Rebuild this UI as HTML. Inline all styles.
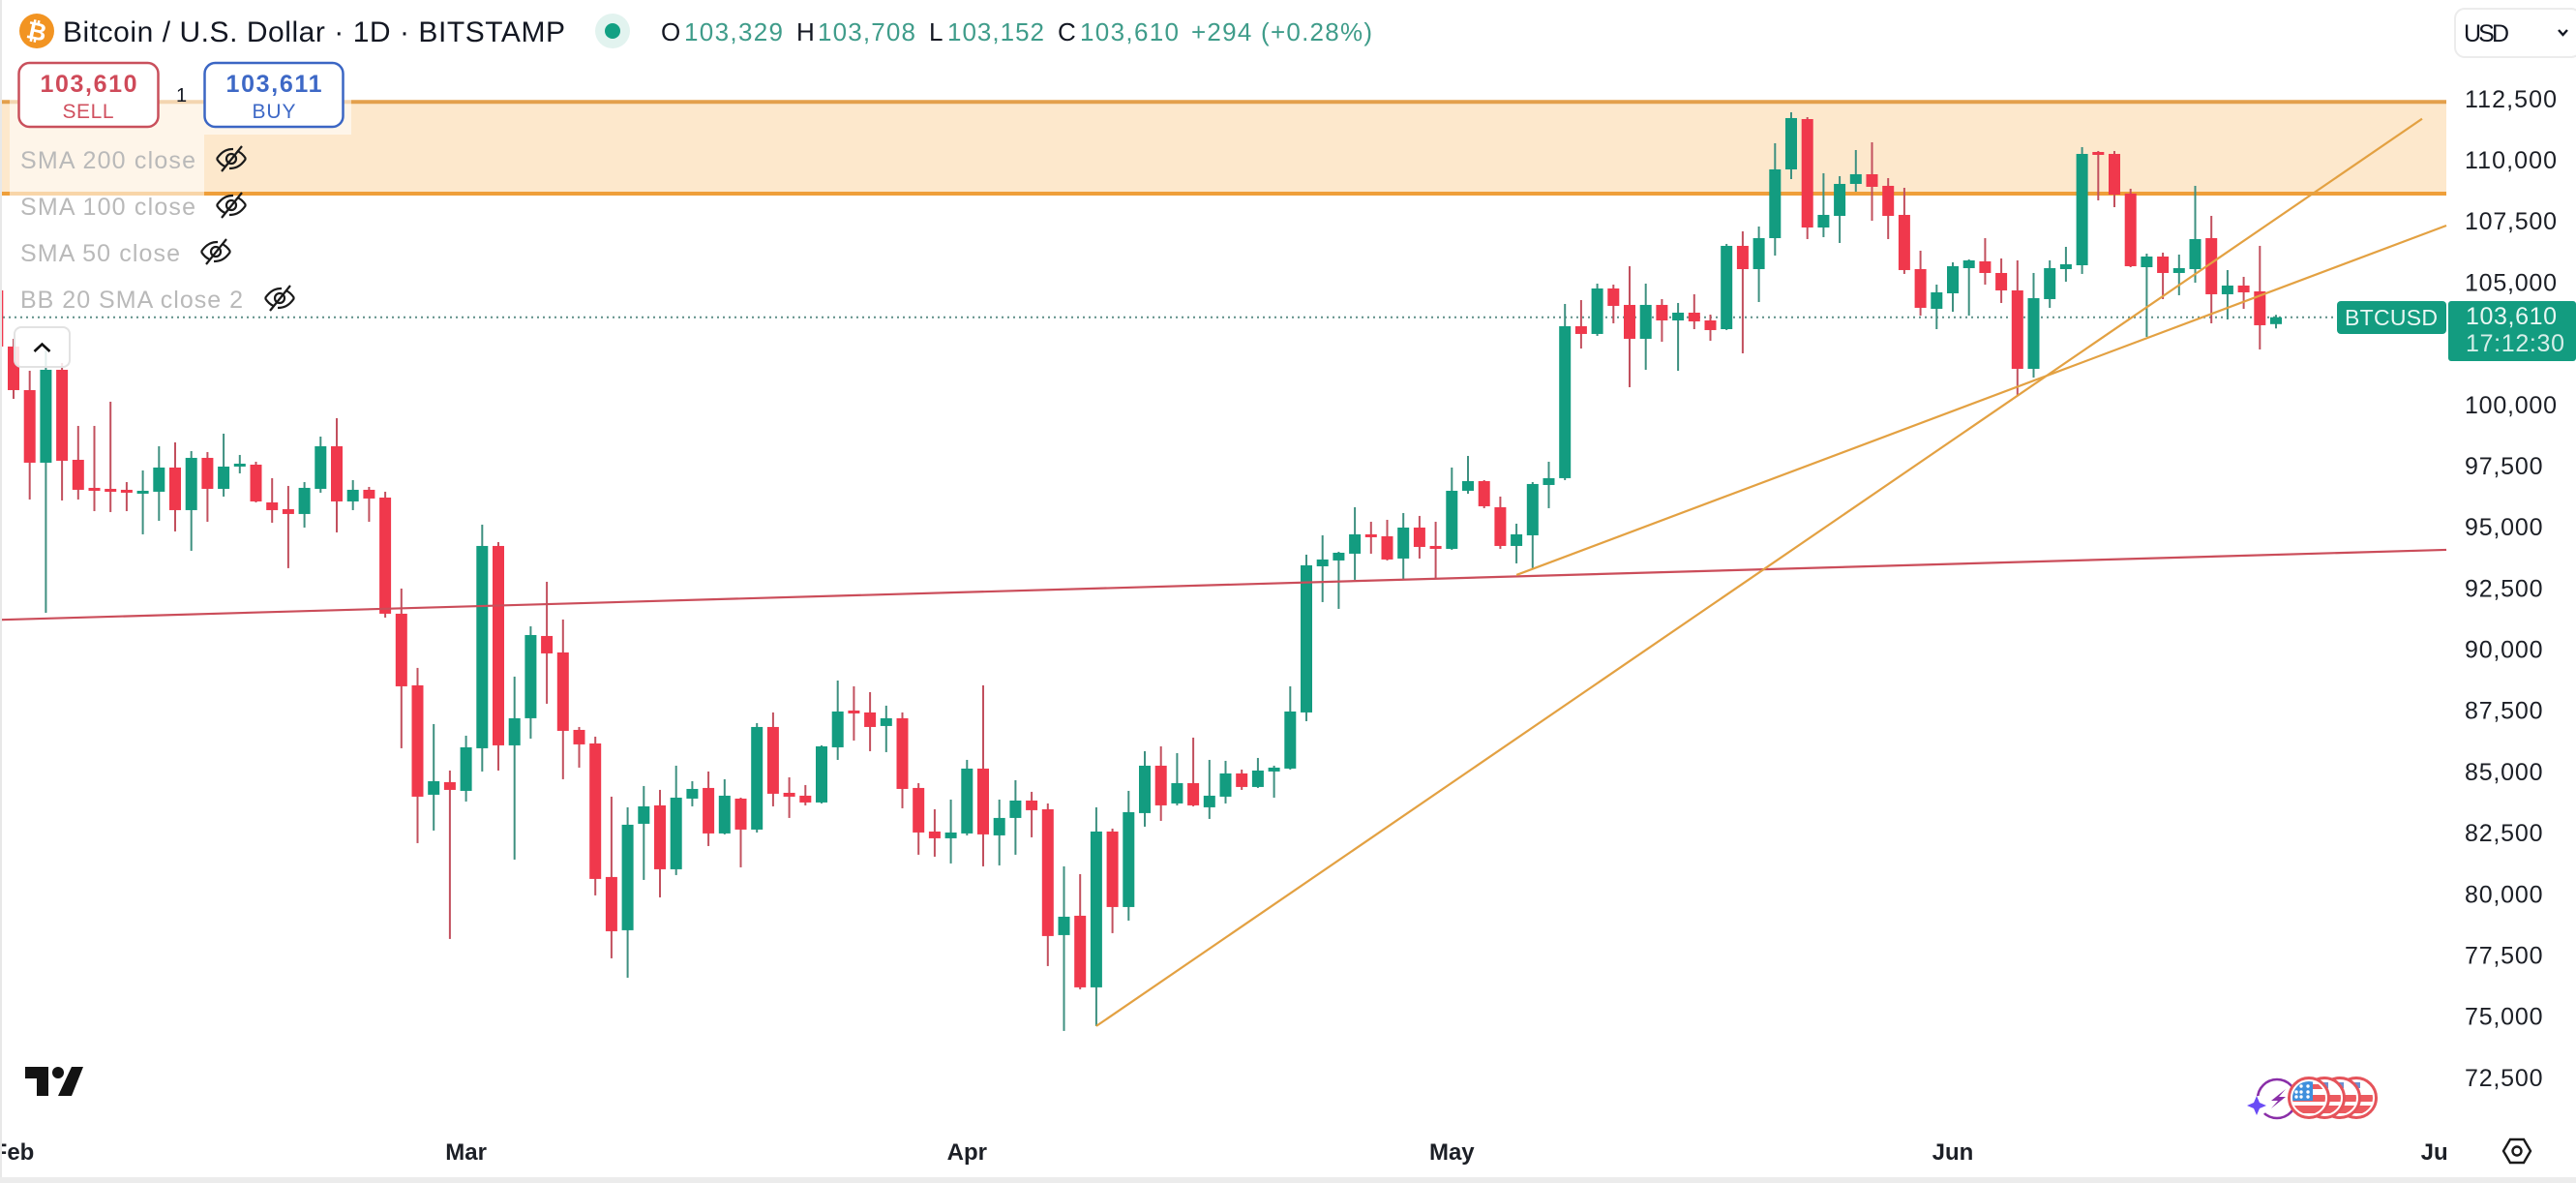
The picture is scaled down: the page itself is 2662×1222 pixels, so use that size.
<!DOCTYPE html>
<html lang="en">
<head>
<meta charset="utf-8">
<title>BTCUSD chart</title>
<style>
html,body{margin:0;padding:0;background:#fff;}
svg{display:block;font-family:"Liberation Sans",Arial,sans-serif;}
</style>
</head>
<body>
<svg id="chart" xmlns="http://www.w3.org/2000/svg" width="2662" height="1222" viewBox="0 0 2662 1222">
  <defs>
    <clipPath id="plot-clip"><rect x="0" y="0" width="2528" height="1222"/></clipPath>
    <clipPath id="axis-clip"><rect x="0" y="1160" width="2529" height="62"/></clipPath>
    <clipPath id="flag-clip-0"><circle cx="2386" cy="1134" r="17"/></clipPath>
    <clipPath id="flag-clip-1"><circle cx="2402" cy="1134" r="17"/></clipPath>
    <clipPath id="flag-clip-2"><circle cx="2418" cy="1134" r="17"/></clipPath>
    <clipPath id="flag-clip-3"><circle cx="2435" cy="1134" r="17"/></clipPath>
  </defs>
  <rect x="0" y="0" width="2662" height="1222" fill="#ffffff"/>

  <g id="zone-layer"></g>
  <g id="price-line-layer"></g>
  <g id="candle-layer" clip-path="url(#plot-clip)"></g>
  <g id="trend-layer"></g>

  <!-- legend overlay panels -->
  <rect x="10" y="100" width="353" height="39" fill="#ffffff" fill-opacity="0.56"/>
  <rect x="10" y="139" width="201" height="63" fill="#ffffff" fill-opacity="0.56"/>

  <!-- header -->
  <g>
    <circle cx="38" cy="32" r="18" fill="#f29422"/>
    <text x="38" y="41" font-size="25" font-weight="700" fill="#ffffff" text-anchor="middle" font-family="'DejaVu Sans',sans-serif" transform="rotate(12 38 32)">₿</text>
  </g>
  <text x="65" y="43" font-size="30" fill="#131722" textLength="519">Bitcoin / U.S. Dollar · 1D · BITSTAMP</text>
  <g>
    <circle cx="633" cy="32" r="18" fill="#e2f3ef"/>
    <circle cx="633" cy="32" r="8" fill="#13a083"/>
  </g>
  <g font-size="26">
    <text x="683" y="42" fill="#131722">O</text>
    <text x="707" y="42" fill="#3f9c8a" textLength="102">103,329</text>
    <text x="823" y="42" fill="#131722">H</text>
    <text x="845" y="42" fill="#3f9c8a" textLength="101">103,708</text>
    <text x="960" y="42" fill="#131722">L</text>
    <text x="979" y="42" fill="#3f9c8a" textLength="100">103,152</text>
    <text x="1093" y="42" fill="#131722">C</text>
    <text x="1116" y="42" fill="#3f9c8a" textLength="102">103,610</text>
    <text x="1231" y="42" fill="#3f9c8a" textLength="187">+294 (+0.28%)</text>
  </g>

  <!-- sell / buy -->
  <g>
    <rect x="19.5" y="65" width="144" height="66" rx="11" fill="#ffffff" stroke="#c9505c" stroke-width="2.5"/>
    <text x="91.5" y="95" font-size="25" font-weight="700" fill="#cf4a59" text-anchor="middle" textLength="100">103,610</text>
    <text x="91" y="122" font-size="21" fill="#d0505f" text-anchor="middle" textLength="53">SELL</text>
  </g>
  <text x="187.5" y="105" font-size="20" fill="#131722" text-anchor="middle">1</text>
  <g>
    <rect x="211.5" y="65" width="143" height="66" rx="11" fill="#ffffff" stroke="#3b66c4" stroke-width="2.5"/>
    <text x="283" y="95" font-size="25" font-weight="700" fill="#3d68c6" text-anchor="middle" textLength="99">103,611</text>
    <text x="283" y="122" font-size="21" fill="#3d68c6" text-anchor="middle" textLength="45">BUY</text>
  </g>

  <!-- indicators -->
  <g font-size="25" fill="#b9b9b9">
    <text x="21" y="174" textLength="181">SMA 200 close</text>
    <text x="21" y="222" textLength="181">SMA 100 close</text>
    <text x="21" y="270" textLength="165">SMA 50 close</text>
    <text x="21" y="318" textLength="230">BB 20 SMA close 2</text>
  </g>
  <g transform="translate(239 164)" fill="none" stroke="#1a1a1a" stroke-width="2.2">
    <path d="M-15 0C-9 -9 -3 -10 2 -10M15 0C9 9 3 10 -2 10M-15 0C-12 5 -9 7 -6 8M15 0C12 -5 9 -7 6 -8"/>
    <circle r="5"/><path d="M-10 13L11 -13"/>
  </g>
  <g transform="translate(239 212)" fill="none" stroke="#1a1a1a" stroke-width="2.2">
    <path d="M-15 0C-9 -9 -3 -10 2 -10M15 0C9 9 3 10 -2 10M-15 0C-12 5 -9 7 -6 8M15 0C12 -5 9 -7 6 -8"/>
    <circle r="5"/><path d="M-10 13L11 -13"/>
  </g>
  <g transform="translate(223 260)" fill="none" stroke="#1a1a1a" stroke-width="2.2">
    <path d="M-15 0C-9 -9 -3 -10 2 -10M15 0C9 9 3 10 -2 10M-15 0C-12 5 -9 7 -6 8M15 0C12 -5 9 -7 6 -8"/>
    <circle r="5"/><path d="M-10 13L11 -13"/>
  </g>
  <g transform="translate(289 308)" fill="none" stroke="#1a1a1a" stroke-width="2.2">
    <path d="M-15 0C-9 -9 -3 -10 2 -10M15 0C9 9 3 10 -2 10M-15 0C-12 5 -9 7 -6 8M15 0C12 -5 9 -7 6 -8"/>
    <circle r="5"/><path d="M-10 13L11 -13"/>
  </g>
  <g>
    <rect x="15" y="338" width="57" height="41" rx="7" fill="#ffffff" fill-opacity="0.86" stroke="#e2e2e2" stroke-width="2"/>
    <path d="M35.5 363L43.5 355.5L51.5 363" fill="none" stroke="#111111" stroke-width="2.6"/>
  </g>

  <!-- price scale -->
  <g id="y-axis"></g>
  <g>
    <rect x="2537" y="9" width="130" height="50" rx="10" fill="#ffffff" stroke="#ececec" stroke-width="2"/>
    <text x="2546" y="43" font-size="25" fill="#131722" textLength="47">USD</text>
    <path d="M2644 31L2648.5 36L2653 31" fill="none" stroke="#131722" stroke-width="2.4"/>
  </g>
  <g>
    <rect x="2415" y="311" width="113" height="34" rx="4" fill="#139c80"/>
    <text x="2423" y="336" font-size="23" fill="#e9f7f3" textLength="96">BTCUSD</text>
  </g>
  <g>
    <rect x="2530" y="311" width="132" height="62" rx="3" fill="#139c80"/>
    <text x="2548" y="335" font-size="25" fill="#e9f7f3" textLength="94">103,610</text>
    <text x="2548" y="363" font-size="25" fill="#d6eee8" textLength="102">17:12:30</text>
  </g>

  <!-- logo -->
  <g fill="#131313">
    <path d="M26 1102H50V1132H38V1114H26Z"/>
    <circle cx="60" cy="1108" r="6"/>
    <path d="M74 1102H86L74 1132H60Z"/>
  </g>

  <!-- events -->
  <g>
    <circle cx="2353" cy="1135" r="20" fill="none" stroke="#8a2fa8" stroke-width="2.6"/>
    <circle cx="2334" cy="1142" r="10" fill="#ffffff"/>
    <path d="M2362 1125L2347 1137H2354L2347 1145L2362 1133H2355Z" fill="#8a2fa8"/>
    <path d="M2332 1132L2335 1139L2342 1142L2335 1145L2332 1152L2329 1145L2322 1142L2329 1139Z" fill="#6a4cf5"/>
  </g>
  <g>
    <circle cx="2435" cy="1134" r="20.5" fill="#ffffff" stroke="#e5535a" stroke-width="3"/>
    <g clip-path="url(#flag-clip-3)"><rect x="2414" y="1131" width="42" height="7" fill="#ec5a5f"/><rect x="2414" y="1142" width="42" height="8" fill="#ec5a5f"/><rect x="2419" y="1118" width="20" height="6" fill="#6c8fd0"/></g>
  </g>
  <g>
    <circle cx="2418" cy="1134" r="20.5" fill="#ffffff" stroke="#e5535a" stroke-width="3"/>
    <g clip-path="url(#flag-clip-2)"><rect x="2397" y="1131" width="42" height="7" fill="#ec5a5f"/><rect x="2397" y="1142" width="42" height="8" fill="#ec5a5f"/><rect x="2402" y="1118" width="20" height="6" fill="#6c8fd0"/></g>
  </g>
  <g>
    <circle cx="2402" cy="1134" r="20.5" fill="#ffffff" stroke="#e5535a" stroke-width="3"/>
    <g clip-path="url(#flag-clip-1)"><rect x="2381" y="1131" width="42" height="7" fill="#ec5a5f"/><rect x="2381" y="1142" width="42" height="8" fill="#ec5a5f"/><rect x="2386" y="1118" width="20" height="6" fill="#6c8fd0"/></g>
  </g>
  <g>
    <circle cx="2386" cy="1134" r="20.5" fill="#ffffff" stroke="#e5535a" stroke-width="3"/>
    <g clip-path="url(#flag-clip-0)">
      <rect x="2365" y="1131" width="42" height="7" fill="#ec5a5f"/>
      <rect x="2365" y="1142" width="42" height="8" fill="#ec5a5f"/>
      <rect x="2390" y="1120" width="20" height="5" fill="#ec5a5f"/>
      <rect x="2365" y="1114" width="25" height="23" fill="#3f8fdc"/>
      <g fill="#ffffff">
        <circle cx="2378" cy="1122" r="1.7"/><circle cx="2385" cy="1122" r="1.7"/>
        <circle cx="2378" cy="1128" r="1.7"/><circle cx="2385" cy="1128" r="1.7"/><circle cx="2373" cy="1128" r="1.7"/>
        <circle cx="2378" cy="1133" r="1.7"/><circle cx="2385" cy="1133" r="1.7"/><circle cx="2373" cy="1133" r="1.7"/>
      </g>
    </g>
  </g>

  <!-- x axis -->
  <g id="x-axis" clip-path="url(#axis-clip)"></g>
  <g fill="none" stroke="#1a1a1a" stroke-width="2.4">
    <path d="M2594 1177H2608L2615 1189L2608 1201H2594L2587 1189Z"/>
    <circle cx="2601" cy="1189" r="4.5"/>
  </g>

  <!-- frame -->
  <rect x="0" y="0" width="2" height="1222" fill="#e8e8e8"/>
  <rect x="0" y="1216" width="2662" height="6" fill="#ececec"/>
</svg>

<script>
const opens = [104707,102413,100632,97666,101463,97784,96637,96597,96558,96439,
96479,97468,95727,97863,96597,97547,97586,96043,95767,95569,
96597,98338,96083,96558,96241,91494,88567,84096,84611,84254,
85995,94263,86114,87222,90584,89911,86746,86192,80734,78558,
82909,83661,81050,83938,84373,82514,83938,82672,86865,84175,
84057,83780,86034,87538,87459,86905,87222,84373,82593,82316,
82514,85165,82435,83147,83859,83503,78360,79151,76224,82593,
79507,83345,85283,83740,84571,83582,84017,84967,84413,85046,
85165,87459,93432,93670,93947,94738,94659,93749,95015,94263,
94144,96518,96914,95846,94263,94698,96755,97033,103243,102927,
104786,104114,102729,104114,103480,103797,103480,103124,106527,105577,
106843,109652,111709,107278,107753,109059,109454,108980,107793,105577,
103955,104588,105617,105894,105419,104707,101502,104351,105577,105735,
110364,110285,108663,105656,106091,105419,105577,106843,104549,104905,
104667,103329];
const highs = [104905,102729,101423,102254,101740,99169,99169,100158,96874,97349,
98338,98496,98140,98101,98852,97982,97705,97033,96716,96874,
98733,99485,96953,96676,96479,92522,89279,86984,85085,86509,
95134,94421,88923,90980,92799,91257,86865,86469,84017,83582,
84452,84294,85283,84650,85046,84729,83977,87024,87459,84808,
84492,86114,88764,88527,88289,87736,87459,84571,83503,83898,
85520,88567,83898,84690,84215,83740,81169,80852,83582,82712,
84254,85876,86074,85797,86430,85520,85481,85125,85599,85283,
88527,93907,94698,94026,95846,95252,95331,95608,95490,95252,
97468,97942,96953,96281,95173,96874,97705,104153,104311,104984,
104944,105696,104984,104351,104193,104549,103718,106606,107120,107318,
110720,111986,111788,109494,109375,110443,110760,109296,108900,106329,
104944,105854,105973,106843,106012,105933,105419,105933,106487,110562,
110404,110404,108861,106210,106250,106171,108980,107753,105538,105261,
106527,103708];
const lows = [102413,100276,96162,91533,96122,96162,95687,95648,95687,94738,
95292,94857,94066,95252,96281,97230,96043,95213,93355,95015,
96439,94817,95727,95252,91336,85995,82118,82633,78202,83819,
85046,85085,81446,86390,87815,84729,85204,79982,77411,76619,
80615,79902,80813,83621,81999,82475,81129,82553,83621,83147,
83661,83740,85520,86311,85876,85837,83542,81644,81564,81288,
82435,81169,81208,81644,82356,77094,74444,76145,74642,78439,
78953,82791,83028,83661,83621,83107,83740,84294,84373,83977,
85125,87103,91969,91692,92879,93947,93670,92879,93749,92918,
94105,96399,95806,94144,93551,93355,95806,96953,102333,102848,
103362,100751,101463,102610,101423,103124,102650,103085,102135,104232,
106131,109256,106804,106883,106645,108742,107555,106804,105380,103678,
103124,103836,103678,104944,104193,100435,101146,103995,105063,105380,
108386,108109,105656,102808,104351,104509,105023,103362,103520,103955,
102294,103152];
const closes = [102413,100632,97666,101463,97745,96558,96558,96518,96479,96518,
97468,95727,97863,96597,97507,97626,96083,95727,95569,96637,
98338,96083,96558,96202,91494,88527,84017,84650,84294,86034,
94263,86114,87222,90623,89872,86707,86153,80655,78518,82870,
83621,81050,83977,84333,82514,84057,82672,86865,84136,84017,
83780,86074,87498,87459,86865,87222,84333,82553,82316,82553,
85165,82475,83147,83859,83464,78321,79111,76224,82593,79507,
83384,85283,83661,84571,83661,84057,84967,84413,85085,85204,
87498,93472,93710,93986,94738,94659,93710,95015,94223,94144,
96518,96914,95885,94263,94738,96795,97033,103243,102927,104786,
104074,102729,104114,103480,103797,103441,103085,106527,105577,106843,
109652,111749,107278,107793,109059,109454,108940,107753,105538,103995,
104628,105696,105933,105419,104707,101502,104390,105617,105775,110285,
110285,108623,105696,106091,105419,105617,106804,104549,104905,104628,
103283,103610];

const priceTicks = [112500,110000,107500,105000,100000,97500,95000,92500,90000,87500,85000,82500,80000,77500,75000,72500];
const monthLabels = ['Feb','Mar','Apr','May','Jun','Jul'];
const monthBars = [1,29,60,90,121,151];

const zonePrices = [112413,108663];
const orangeTrendBars = [68,150.04];
const orangeTrendPrices = [74642,111721];
const shallowTrendBars = [94,151.54];
const shallowTrendPrices = [93076,107357];
const supportTrendBars = [0.28,151.54];
const supportTrendPrices = [91248,94105];

const xScale = function (bar) { return -2.7 + 16.7 * bar; };
const yScale = function (price) { return 103 + (112500 - price) * 0.025276; };
const plotRight = 2528;

const NS = 'http://www.w3.org/2000/svg';
function make(tag, attrs, parent) {
  const el = document.createElementNS(NS, tag);
  for (const k in attrs) el.setAttribute(k, attrs[k]);
  parent.appendChild(el);
  return el;
}

const zoneLayer = document.getElementById('zone-layer');
const zoneFill = make('rect', {x: 2, y: yScale(zonePrices[0]), width: plotRight - 2, height: yScale(zonePrices[1]) - yScale(zonePrices[0]), fill: '#fde8cc'}, zoneLayer);


const zoneTop = make('line', {x1: 2, x2: plotRight, y1: yScale(zonePrices[0]), y2: yScale(zonePrices[0]), stroke: '#e3a04c', 'stroke-width': 4}, zoneLayer);


const zoneBottom = make('line', {x1: 2, x2: plotRight, y1: yScale(zonePrices[1]), y2: yScale(zonePrices[1]), stroke: '#ef9f3a', 'stroke-width': 4}, zoneLayer);



const lastY = yScale(closes[closes.length - 1]);
const priceLine = make('line', {x1: 3, x2: 2415, y1: lastY, y2: lastY, stroke: '#5f8f88', 'stroke-width': 2, 'stroke-dasharray': '2 4'}, document.getElementById('price-line-layer'));



const candleLayer = document.getElementById('candle-layer');
for (let i = 0; i < closes.length; i++) {
  const up = closes[i] >= opens[i];
  const cx = xScale(i);
  const yTop = yScale(Math.max(opens[i], closes[i]));
  const yBot = yScale(Math.min(opens[i], closes[i]));
  const h = Math.max(yBot - yTop, 3);
  const g = make('g', {}, candleLayer);
  
  
  const wick = make('rect', {x: cx - 1, y: yScale(highs[i]), width: 2, height: yScale(lows[i]) - yScale(highs[i]), fill: up ? '#3e9080' : '#c2505e'}, g);
  
  
  const body = make('rect', {x: cx - 6, y: yTop, width: 12, height: h, fill: up ? '#139c80' : '#f0384c'}, g);
  
  
}

const trendLayer = document.getElementById('trend-layer');
const supportLine = make('line', {x1: xScale(supportTrendBars[0]), y1: yScale(supportTrendPrices[0]), x2: xScale(supportTrendBars[1]), y2: yScale(supportTrendPrices[1]), stroke: '#cb4d5a', 'stroke-width': 2.2}, trendLayer);


const steepLine = make('line', {x1: xScale(orangeTrendBars[0]), y1: yScale(orangeTrendPrices[0]), x2: xScale(orangeTrendBars[1]), y2: yScale(orangeTrendPrices[1]), stroke: '#e3a142', 'stroke-width': 2.2}, trendLayer);


const shallowLine = make('line', {x1: xScale(shallowTrendBars[0]), y1: yScale(shallowTrendPrices[0]), x2: xScale(shallowTrendBars[1]), y2: yScale(shallowTrendPrices[1]), stroke: '#e3a142', 'stroke-width': 2.2}, trendLayer);



const yAxis = document.getElementById('y-axis');
priceTicks.forEach(function (p) {
  const t = make('text', {x: 2547, y: yScale(p) + 7.8, 'font-size': 25, fill: '#1c1f26', textLength: p >= 100000 ? 95 : 80.5}, yAxis);
  
  
  t.textContent = p.toLocaleString('en-US');
});

const xAxis = document.getElementById('x-axis');
monthLabels.forEach(function (m, k) {
  const t = make('text', {x: xScale(monthBars[k]), y: 1198, 'font-size': 24, 'font-weight': 700, fill: '#1c1f26', 'text-anchor': 'middle'}, xAxis);
  
  
  t.textContent = m;
});
</script>
</body>
</html>
